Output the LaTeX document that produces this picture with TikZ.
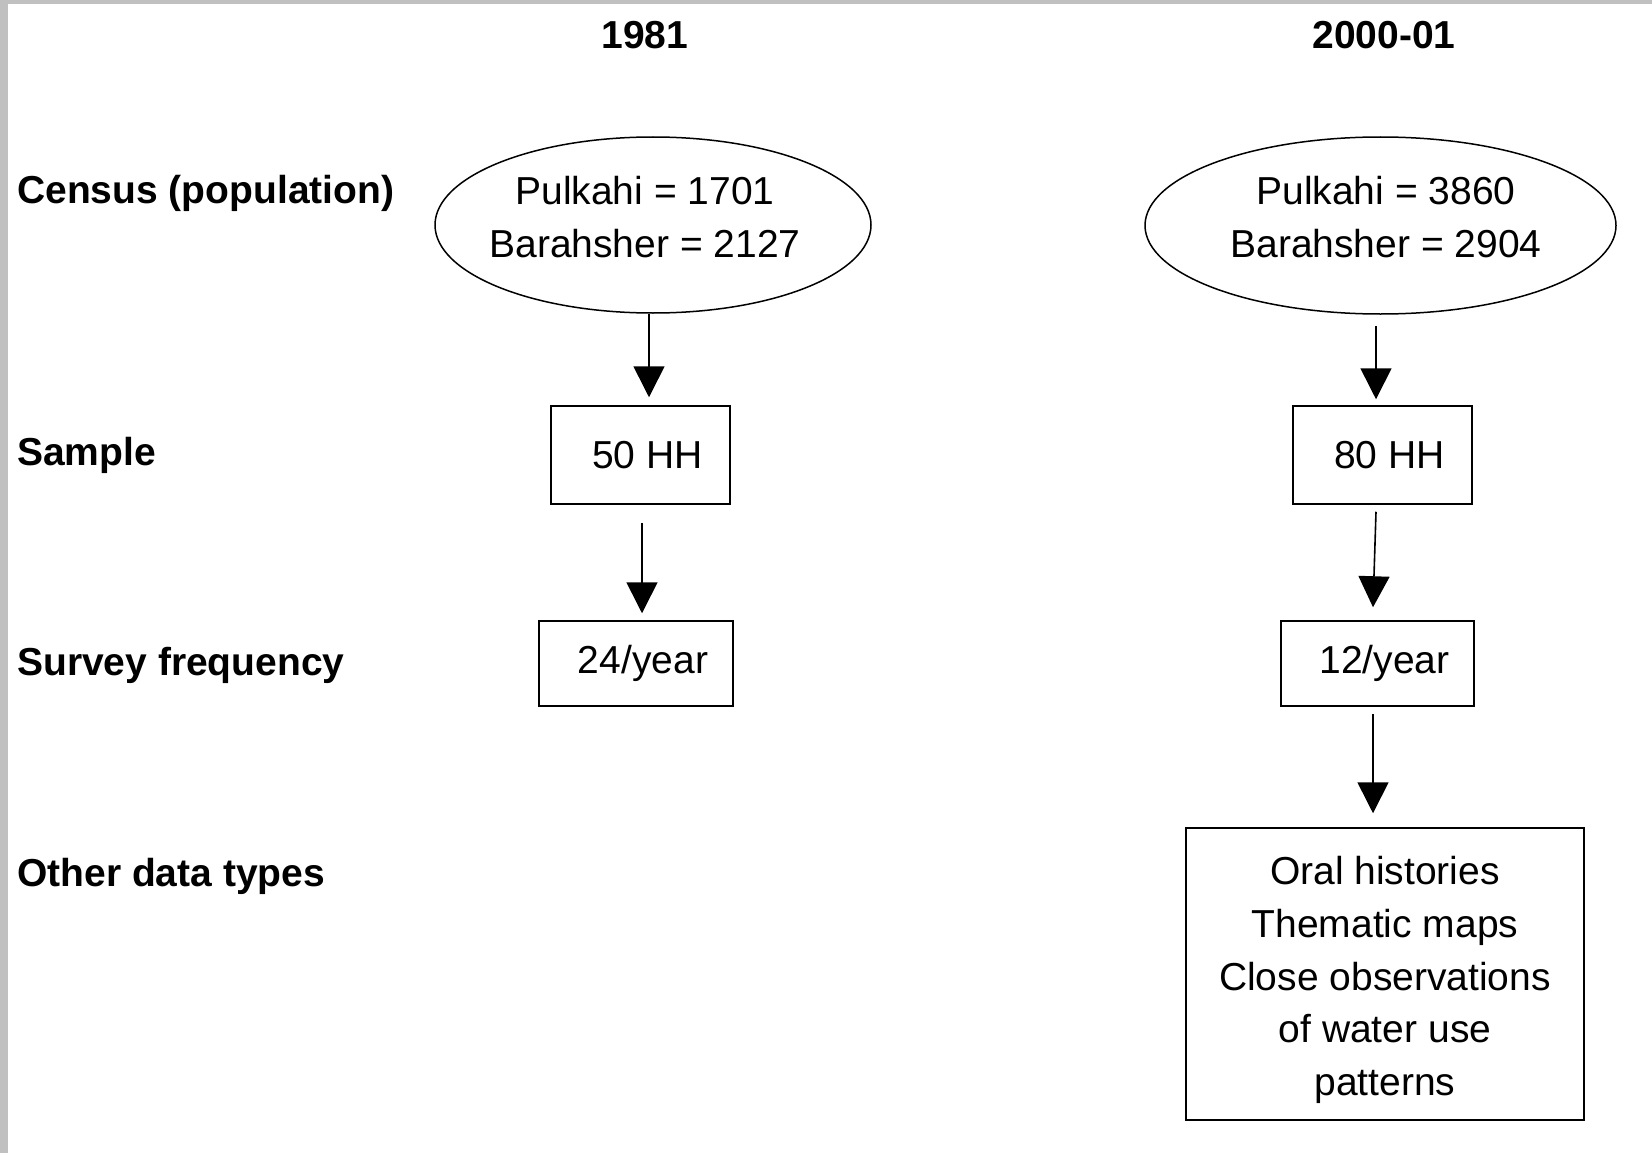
\documentclass[tikz,border=0pt]{standalone}
\usepackage{fontspec}
\setmainfont{Liberation Sans}
\usetikzlibrary{shapes.geometric,arrows.meta}
\definecolor{framegray}{HTML}{C0C0C0}
\tikzset{
  lbl/.style={anchor=west,inner sep=0pt,font=\fontsize{39}{52.7}\selectfont\bfseries},
  head/.style={inner sep=0pt,font=\fontsize{39}{52.7}\selectfont\bfseries},
  txt/.style={inner sep=0pt,align=center,font=\fontsize{39}{52.7}\selectfont},
  ell/.style={draw,line width=1.5pt,ellipse,inner sep=0pt,align=center,font=\fontsize{39}{52.7}\selectfont},
  box/.style={draw,line width=1.5pt,rectangle,inner sep=0pt,align=center,font=\fontsize{39}{52.7}\selectfont},
  arr/.style={line width=1.6pt,-{Triangle[length=31pt,width=31pt]}}
}
\begin{document}
\begin{tikzpicture}[x=1pt,y=-1pt]
\useasboundingbox (0,0) rectangle (1652,1153);
\fill[white] (0,0) rectangle (1652,1153);
\fill[framegray] (0,0) rectangle (8,1153);
\fill[framegray] (0,0) rectangle (1652,4.5);
% headers
\node[head] (h1) at (645,35) {1981};
\node[head] (h2) at (1384,35) {2000-01};
% row labels
\node[lbl] (r1) at (17,193) {Census (population)};
\node[lbl] (r2) at (17,455) {Sample};
\node[lbl] (r3) at (17,665) {Survey frequency};
\node[lbl] (r4) at (17,876) {Other data types};
% left column
\node[ell,minimum width=436pt,minimum height=176pt] (e1) at (653,225) {};
\node[txt] (t1) at (645,217) {Pulkahi = 1701\\Barahsher = 2127};
\node[box,minimum width=179pt,minimum height=98pt] (b1) at (640.5,455) {\hspace*{14pt}50 HH};
\node[box,minimum width=194pt,minimum height=85pt] (c1) at (636,663.5) {\hspace*{14pt}24/year};
% right column
\node[ell,minimum width=471pt,minimum height=177pt] (e2) at (1380.5,225.5) {};
\node[txt] (t2) at (1386,217) {Pulkahi = 3860\\Barahsher = 2904};
\node[box,minimum width=179pt,minimum height=98pt] (b2) at (1382.5,455) {\hspace*{14pt}80 HH};
\node[box,minimum width=193pt,minimum height=85pt] (c2) at (1377.5,663.5) {\hspace*{14pt}12/year};
\node[box,minimum width=398pt,minimum height=292pt] (d2) at (1385,974) {};
\node[txt] (t3) at (1385,980) {Oral histories\\Thematic maps\\Close observations\\of water use\\patterns};
% arrows
\draw[arr] ([xshift=-4pt]e1.south) -- ([xshift=8.5pt,yshift=8pt]b1.north);
\draw[arr] ([xshift=1.5pt,yshift=-18pt]b1.south) -- ([xshift=6pt,yshift=7pt]c1.north);
\draw[arr] ([xshift=-4.5pt,yshift=-11pt]e2.south) -- ([xshift=-6.5pt,yshift=6pt]b2.north);
\draw[arr] ([xshift=-6.5pt,yshift=-7pt]b2.south) -- ([xshift=-4.5pt,yshift=13pt]c2.north);
\draw[arr] ([xshift=-4.5pt,yshift=-7pt]c2.south) -- ([xshift=-12pt,yshift=14pt]d2.north);
\end{tikzpicture}
\end{document}
